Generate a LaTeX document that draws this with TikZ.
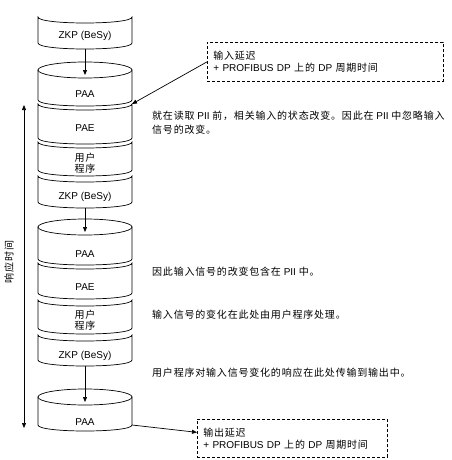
\documentclass[tikz,border=0pt]{standalone}
\usepackage{fontspec}
\setmainfont{Liberation Sans}
\newfontfamily\cjk[LetterSpace=8]{Noto Sans CJK SC}
\usetikzlibrary{arrows.meta}

% torn slice of the cycle stack: name, top y, bottom y
\newcommand{\tornpart}[3]{%
  \draw[stackline] (38,#2) .. controls (38,#2+8) and (132,#2+8) .. (132,#2)
    -- (132,#3) .. controls (132,#3+8) and (38,#3+8) .. (38,#3) -- cycle;
  \coordinate (#1-tr) at (132,#2);
  \coordinate (#1-b) at (85,#3+6);
}
% drum slice with full top ellipse: name, ellipse centre y, bottom y
\newcommand{\drumpart}[3]{%
  \draw[stackline] (38,#2) -- (38,#3) .. controls (38,#3+8) and (132,#3+8) .. (132,#3) -- (132,#2) -- cycle;
  \draw[stackline] (85,#2) ellipse [x radius=47pt, y radius=8pt];
  \coordinate (#1-c) at (85,#2+5);
  \coordinate (#1-br) at (132,#3);
}

\begin{document}
\begin{tikzpicture}[x=1pt,y=-1pt,
  stackline/.style={line width=0.7pt,fill=white},
  stacktext/.style={font=\fontsize{10}{11}\selectfont,align=center,inner sep=0pt},
  remark/.style={anchor=west,align=left,inner sep=0pt,font=\fontsize{10}{14}\selectfont},
  delaybox/.style={draw,line width=0.7pt,dash pattern=on 3pt off 2pt,anchor=north west,
    align=left,inner sep=6pt,font=\fontsize{10}{12}\selectfont},
  flow/.style={line width=0.7pt,-{Triangle[length=5pt,width=4pt]}}]
  \useasboundingbox (0,0) rectangle (451,460);

  % first cycle
  \tornpart{zkpa}{17}{43}
  \node[stacktext] (zkpa) at (85,36) {ZKP (BeSy)};
  \drumpart{paaa}{70}{100}
  \node[stacktext] (paaa) at (85,94) {PAA};
  \tornpart{paea}{104}{138}
  \node[stacktext] (paea) at (85,128) {PAE};
  \tornpart{usra}{142}{170}
  \node[stacktext] (usra) at (85,163) {\cjk 用户\\\cjk 程序};
  \tornpart{zkpb}{176}{202}
  \node[stacktext] (zkpb) at (85,197) {ZKP (BeSy)};

  % second cycle
  \drumpart{paab}{227}{259}
  \node[stacktext] (paab) at (85,254) {PAA};
  \tornpart{paeb}{263}{293}
  \node[stacktext] (paeb) at (85,287) {PAE};
  \tornpart{usrb}{300}{328}
  \node[stacktext] (usrb) at (85,320) {\cjk 用户\\\cjk 程序};
  \tornpart{zkpc}{335}{360}
  \node[stacktext] (zkpc) at (85,356) {ZKP (BeSy)};
  \drumpart{paac}{397}{425}
  \node[stacktext] (paac) at (85,422) {PAA};

  \draw[flow] (zkpa-b) -- (paaa-c);
  \draw[flow] (zkpb-b) -- (paab-c);
  \draw[flow] (zkpc-b) -- (paac-c);

  % response time
  \coordinate (tbegin) at (24,105);
  \coordinate (tend) at (24,428);
  \draw[line width=0.7pt,{Triangle[length=5pt,width=4pt]}-{Triangle[length=5pt,width=4pt]}] (tbegin) -- (tend);
  \node[rotate=90,font=\fontsize{10}{12}\selectfont,inner sep=0pt] (resp) at (9,262) {\cjk 响应时间};

  % delays
  \node[delaybox,minimum width=236pt,minimum height=39pt,text width=224pt] (indelay) at (207,42)
    {{\cjk 输入延迟}\\+ PROFIBUS DP {\cjk 上的} DP {\cjk 周期时间}};
  \node[delaybox,minimum width=190pt,minimum height=38pt,text width=178pt] (outdelay) at (197,419)
    {{\cjk 输出延迟}\\+ PROFIBUS DP {\cjk 上的} DP {\cjk 周期时间}};
  \draw[flow] (indelay.west) -- (paea-tr);
  \draw[flow] (paac-br) -- ([yshift=6pt]outdelay.west);

  % remarks
  \node[remark] (rema) at (152,123)
    {{\cjk 就在读取} PII {\cjk 前，相关输入的状态改变。因此在} PII {\cjk 中忽略输入}\\{\cjk 信号的改变。}};
  \node[remark] (remb) at (152,272) {{\cjk 因此输入信号的改变包含在} PII {\cjk 中。}};
  \node[remark] (remc) at (152,315) {\cjk 输入信号的变化在此处由用户程序处理。};
  \node[remark] (remd) at (152,373) {\cjk 用户程序对输入信号变化的响应在此处传输到输出中。};
\end{tikzpicture}
\end{document}
